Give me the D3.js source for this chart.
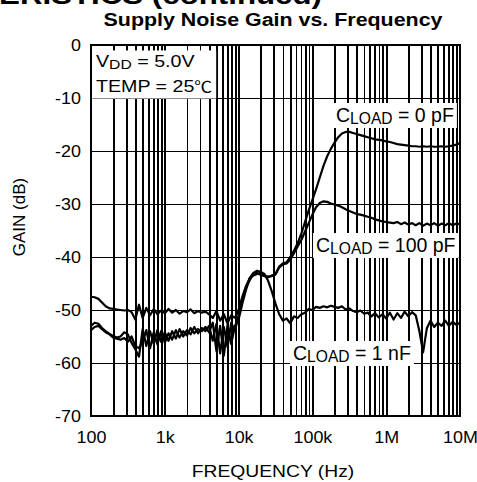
<!DOCTYPE html>
<html>
<head>
<meta charset="utf-8">
<script src="https://cdn.jsdelivr.net/npm/d3@7"></script>
<style>
  html, body { margin: 0; padding: 0; background: #fff; }
  svg { display: block; font-family: "Liberation Sans", Arial, sans-serif; }
</style>
</head>
<body>
<svg id="chart" width="477" height="482"></svg>
<script>
// ---------------- data ----------------
const freqs = [100,112,126,141,158,178,200,224,251,282,316,355,398,447,501,562,631,708,794,891,
  1000,1122,1259,1413,1585,1778,1995,2239,2512,2818,3162,3548,3981,4467,5012,5623,6310,7079,7943,8913,
  10000,11220,12590,14130,15850,17780,19950,22390,25120,28180,31620,35480,39810,44670,50120,56230,63100,70790,79430,89130,
  100000,112200,125900,141300,158500,177800,199500,223900,251200,281800,316200,354800,398100,446700,501200,562300,631000,707900,794300,891300,
  1000000,1122000,1259000,1413000,1585000,1778000,1995000,2239000,2512000,2818000,3162000,3548000,3981000,4467000,5012000,5623000,6310000,7079000,7943000,8913000,
  10000000];

const gain0pF = [-53.0,-52.4,-52.6,-53.4,-54.0,-54.5,-54.9,-55.2,-55.0,-54.2,
  -54.6,-56.2,-57.4,-58.8,-53.6,-56.8,-54.0,-56.4,-53.8,-56.0,
  -54.2,-55.8,-54.0,-55.4,-53.6,-55.0,-53.8,-54.6,-53.2,-54.4,
  -53.4,-54.0,-53.0,-55.8,-52.6,-58.2,-53.2,-57.0,-52.4,-54.0,
  -51.0,-48.0,-45.8,-44.4,-43.2,-43.0,-43.4,-43.6,-43.8,-43.5,
  -43.2,-41.8,-41.2,-41.0,-40.0,-38.8,-37.4,-35.6,-33.4,-31.2,
  -29.2,-27.2,-25.0,-22.8,-21.0,-19.6,-18.4,-17.4,-16.7,-16.4,
  -16.4,-16.6,-16.8,-17.0,-17.2,-17.4,-17.6,-17.8,-17.9,-18.0,
  -18.2,-18.3,-18.5,-18.7,-18.8,-18.9,-19.0,-19.1,-19.1,-19.2,
  -19.1,-19.2,-19.1,-19.2,-19.2,-19.1,-19.2,-19.1,-19.0,-18.8,-18.5];

const gain100pF = [-53.8,-53.2,-53.0,-53.6,-54.2,-54.6,-55.2,-55.4,-55.6,-55.3,
  -56.0,-55.0,-56.8,-57.2,-56.0,-53.8,-57.2,-54.2,-56.5,-54.0,
  -56.2,-54.4,-55.6,-53.8,-55.2,-54.0,-54.8,-53.4,-54.4,-53.6,
  -54.0,-53.2,-54.2,-52.4,-57.8,-53.0,-58.6,-52.8,-56.4,-53.0,
  -51.8,-48.8,-46.2,-44.0,-43.5,-43.2,-43.0,-43.5,-43.7,-43.6,
  -43.3,-42.0,-41.4,-41.2,-40.5,-39.3,-38.0,-36.8,-35.2,-33.6,
  -32.0,-30.6,-29.8,-29.5,-29.6,-29.9,-30.1,-30.3,-30.6,-31.0,
  -31.3,-31.6,-31.9,-32.0,-32.2,-32.4,-32.6,-32.9,-33.1,-33.3,
  -33.4,-33.5,-33.6,-33.4,-33.8,-33.5,-33.9,-33.6,-34.0,-33.6,
  -34.1,-33.7,-34.0,-33.6,-34.1,-33.7,-34.0,-33.6,-34.0,-33.7,-33.8];

const gain1nF = [-47.5,-47.6,-47.9,-48.6,-49.3,-49.7,-49.8,-49.9,-50.0,-50.1,
  -50.0,-50.4,-51.8,-49.0,-51.5,-49.6,-51.0,-49.8,-50.8,-50.1,
  -50.6,-49.8,-50.5,-50.0,-50.7,-50.2,-50.4,-49.9,-50.6,-50.2,
  -50.5,-50.3,-50.8,-51.5,-50.2,-52.0,-50.8,-52.5,-51.0,-51.5,
  -50.0,-47.5,-45.5,-44.0,-43.0,-42.6,-42.8,-43.2,-44.5,-46.5,
  -48.8,-50.8,-52.0,-51.6,-52.5,-51.2,-51.5,-50.8,-50.5,-49.8,
  -50.0,-49.4,-49.6,-49.3,-49.5,-49.2,-49.4,-49.6,-49.3,-49.9,
  -49.7,-50.2,-50.4,-50.1,-50.7,-50.5,-51.2,-50.6,-51.4,-50.8,
  -51.6,-50.5,-51.8,-50.6,-51.5,-50.3,-51.2,-50.4,-51.0,-54.0,
  -58.0,-53.5,-52.0,-53.2,-52.4,-53.0,-52.0,-53.0,-52.2,-52.8,-52.4];

const xTickValues = [100, 1000, 10000, 100000, 1000000, 10000000];
const xTickLabels = ["100", "1k", "10k", "100k", "1M", "10M"];
const yTickValues = [0, -10, -20, -30, -40, -50, -60, -70];

const titleText = "Supply Noise Gain vs. Frequency";
const headerText = "TYPICAL PERFORMANCE CHARACTERISTICS (continued)";
const xAxisTitle = "FREQUENCY (Hz)";
const yAxisTitle = "GAIN (dB)";

// ---------------- layout ----------------
const svg = d3.select("#chart");
const L = 91, R = 460, T = 45, B = 416;

const x = d3.scaleLog().domain([100, 1e7]).range([L, R]);
const y = d3.scaleLinear().domain([-70, 0]).range([B, T]);

// minor grid values
const gridX = [];
for (let dec = 100; dec < 1e7; dec *= 10) {
  for (let m = 1; m <= 9; m++) gridX.push(dec * m);
}
gridX.push(1e7);

// header (clipped at top, as in the source page) and title
svg.append("text")
  .attr("transform", "translate(322,3.5) scale(1.18,1)")
  .attr("text-anchor", "end")
  .attr("font-weight", "bold")
  .attr("font-size", 26.5)
  .text(headerText);

svg.append("text")
  .attr("transform", "translate(273,26) scale(1.19,1)")
  .attr("text-anchor", "middle")
  .attr("font-weight", "bold")
  .attr("font-size", 18)
  .text(titleText);

// gridlines via axes
const gx = svg.append("g")
  .attr("transform", `translate(0,${B})`)
  .call(d3.axisBottom(x).tickValues(gridX).tickSize(-(B - T)).tickFormat(""));
gx.select(".domain").remove();
gx.selectAll("line").attr("stroke", "#000").attr("stroke-width", 1.7)
  .attr("shape-rendering", "crispEdges");

const gy = svg.append("g")
  .attr("transform", `translate(${L},0)`)
  .call(d3.axisLeft(y).tickValues(yTickValues).tickSize(-(R - L)).tickFormat(""));
gy.select(".domain").remove();
gy.selectAll("line").attr("stroke", "#000").attr("stroke-width", 1.7)
  .attr("shape-rendering", "crispEdges");

// label boxes (white backgrounds)
const labelLayer = svg.append("g");

// VDD / TEMP box
const vg = labelLayer.append("g");
const v1 = vg.append("text").attr("transform", "translate(96,67) scale(1.19,1)").attr("font-size", 16.5);
v1.append("tspan").text("V");
v1.append("tspan").attr("font-size", 13.2).attr("dy", 2).text("DD");
v1.append("tspan").attr("dy", -2).text(" = 5.0V");
const v2 = vg.append("text").attr("transform", "translate(96,92) scale(1.19,1)").attr("font-size", 16.5);
v2.append("tspan").text("TEMP = 25");
v2.append("tspan").attr("font-family", "'Noto Sans CJK SC', sans-serif").attr("font-size", 15).text("℃");

function cload(px, py, val) {
  const g = labelLayer.append("g");
  const t = g.append("text").attr("transform", `translate(${px},${py})`).attr("font-size", 19.5);
  t.append("tspan").text("C");
  t.append("tspan").attr("font-size", 15.6).attr("dy", 2).text("LOAD");
  t.append("tspan").attr("dy", -2).text(" = " + val);
  return g;
}
const lab0 = cload(336, 122, "0 pF");
const lab100 = cload(316, 252, "100 pF");
const lab1n = cload(293, 360, "1 nF");

// white boxes behind the labels (sized from text bboxes)
function boxBehind(g, padX, padY) {
  const bb = g.node().getBBox();
  g.insert("rect", ":first-child")
    .attr("x", bb.x - padX).attr("y", bb.y - padY)
    .attr("width", bb.width + 2 * padX).attr("height", bb.height + 2 * padY)
    .attr("fill", "#fff");
}
boxBehind(vg, 4, 2);
boxBehind(lab0, 3, 1);
boxBehind(lab100, 3, 1);
boxBehind(lab1n, 3, 1);

// curves
const line = d3.line()
  .x((d, i) => x(freqs[i]))
  .y(d => y(d));

[gain1nF, gain100pF, gain0pF].forEach(series => {
  svg.append("path")
    .datum(series)
    .attr("d", line)
    .attr("fill", "none")
    .attr("stroke", "#000")
    .attr("stroke-width", 2.2)
    .attr("stroke-linejoin", "round");
});

// frame
svg.append("rect")
  .attr("x", L).attr("y", T).attr("width", R - L).attr("height", B - T)
  .attr("fill", "none").attr("stroke", "#000").attr("stroke-width", 2);

// tick labels
const xl = svg.append("g")
  .attr("transform", `translate(0,${B})`)
  .call(d3.axisBottom(x).tickValues(xTickValues).tickSize(0)
    .tickFormat((d, i) => xTickLabels[i]));
xl.select(".domain").remove();
xl.selectAll("text")
  .attr("y", 27).attr("dy", 0)
  .attr("font-size", 16)
  .attr("font-family", "'Liberation Sans', Arial, sans-serif")
  .attr("fill", "#000")
  .attr("transform", "scale(1.12,1)");

const yl = svg.append("g")
  .attr("transform", `translate(${L},0)`)
  .call(d3.axisLeft(y).tickValues(yTickValues).tickSize(0).tickFormat(d => String(d)));
yl.select(".domain").remove();
yl.selectAll("text")
  .attr("x", -9).attr("dy", "0.36em")
  .attr("font-size", 16)
  .attr("font-family", "'Liberation Sans', Arial, sans-serif")
  .attr("fill", "#000")
  .attr("transform", "scale(1.12,1)");

// axis titles
svg.append("text")
  .attr("transform", "translate(273,477) scale(1.17,1)")
  .attr("text-anchor", "middle")
  .attr("font-size", 16.5)
  .text(xAxisTitle);

svg.append("text")
  .attr("transform", "translate(25,217) rotate(-90)")
  .attr("text-anchor", "middle")
  .attr("font-size", 17)
  .text(yAxisTitle);
</script>
</body>
</html>
